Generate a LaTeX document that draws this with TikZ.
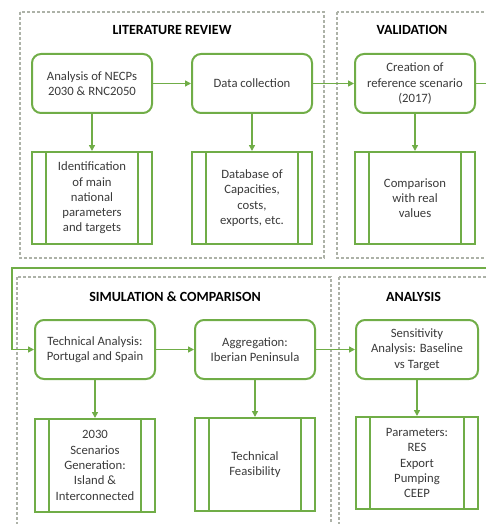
\documentclass[tikz,border=0pt]{standalone}
\usepackage{fontspec}
\setmainfont{Carlito}
\usetikzlibrary{arrows.meta}
\definecolor{grn}{HTML}{70AD47}
\definecolor{dgray}{HTML}{ADB2A8}
\definecolor{txt}{HTML}{3A3A3A}
\begin{document}
\begin{tikzpicture}[x=1pt,y=-1pt,
  stage/.style={draw=dgray, line width=1.2pt, dash pattern=on 3pt off 2pt},
  title/.style={font=\fontsize{14}{17}\selectfont\bfseries, text=black},
  roundbox/.style={draw=grn, line width=2pt, rounded corners=9pt, minimum width=120pt, minimum height=59pt, align=center, font=\fontsize{12.7}{15.3}\selectfont, text=txt, inner sep=0pt},
  procbox/.style={draw=grn, line width=2pt, minimum width=120pt, minimum height=92pt, align=center, font=\fontsize{12.7}{15.3}\selectfont, text=txt, inner sep=0pt},
  inner/.style={draw=grn, line width=2pt},
  conn/.style={draw=grn, line width=1.5pt, -{Triangle[length=6pt,width=6pt]}}
]
\useasboundingbox (0,0) rectangle (486,524);
% stages
\draw[stage] (20,12) rectangle (324,258);
\draw[stage] (337,12) rectangle (492,258);
\draw[stage] (17,277) rectangle (331,530);
\draw[stage] (339,277) rectangle (492,530);
% titles
\node[title] (t1) at (172,30) {LITERATURE REVIEW};
\node[title] (t2) at (412,30) {VALIDATION};
\node[title] (t3) at (175,297) {SIMULATION \& COMPARISON};
\node[title] (t4) at (413.5,297) {ANALYSIS};
% top row
\node[roundbox] (n1) at (92,83.5) {Analysis of NECPs\\2030 \& RNC2050};
\node[roundbox] (n2) at (252,83.5) {Data collection};
\node[roundbox] (n3) at (415,83.5) {Creation of\\reference scenario\\(2017)};
\node[procbox] (p1) at (92,198) {Identification\\of main\\national\\parameters\\and targets};
\node[procbox] (p2) at (252,198) {Database of\\Capacities,\\costs,\\exports, etc.};
\node[procbox] (p3) at (415,198) {Comparison\\with real\\values};
% bottom row
\node[roundbox] (n4) at (95,349.5) {Technical Analysis:\\Portugal and Spain};
\node[roundbox] (n5) at (255,349.5) {Aggregation:\\Iberian Peninsula};
\node[roundbox, minimum width=122pt] (n6) at (417,349.5) {Sensitivity\\Analysis: Baseline\\vs Target};
\node[procbox, minimum height=93pt] (p4) at (95,465.5) {2030\\Scenarios\\Generation:\\Island \&\\Interconnected};
\node[procbox, minimum height=93pt] (p5) at (255,464.5) {Technical\\Feasibility};
\node[procbox, minimum width=122pt] (p6) at (417,463) {Parameters:\\RES\\Export\\Pumping\\CEEP};
% inner side lines of process boxes
\foreach \p in {p1,p2,p3,p4,p5,p6}{
  \draw[inner] ([xshift=15pt]\p.north west) -- ([xshift=15pt]\p.south west);
  \draw[inner] ([xshift=-15pt]\p.north east) -- ([xshift=-15pt]\p.south east);
}
% connectors
\draw[conn] (n1) -- (n2);
\draw[conn] (n2) -- (n3);
\draw[conn] (n1) -- (p1);
\draw[conn] (n2) -- (p2);
\draw[conn] (n3) -- (p3);
\draw[conn] (n4) -- (n5);
\draw[conn] (n5) -- (n6);
\draw[conn] (n4) -- (p4);
\draw[conn] (n5) -- (p5);
\draw[conn] (n6) -- (p6);
\coordinate (rt) at (496,268);
\coordinate (lf) at (12,268);
\draw[conn] (n3.east) -| (rt) -- (lf) |- (n4.west);
\end{tikzpicture}
\end{document}
